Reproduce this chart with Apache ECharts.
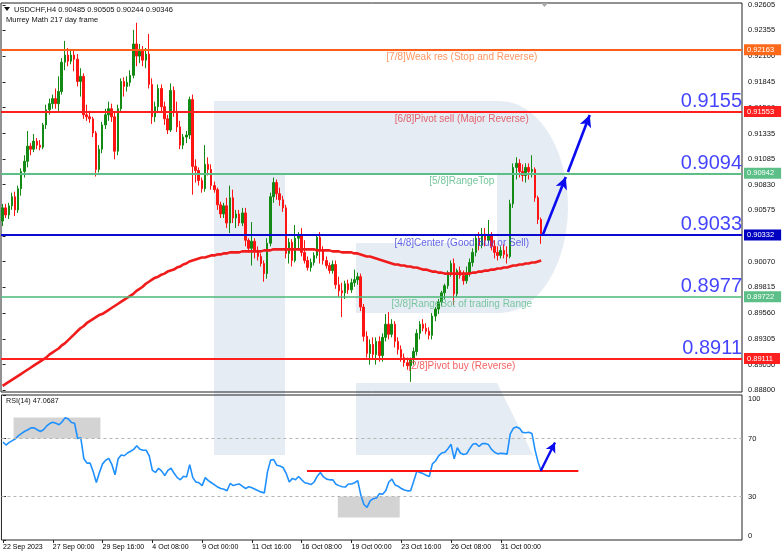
<!DOCTYPE html>
<html><head><meta charset="utf-8">
<script src="https://cdn.jsdelivr.net/npm/echarts@6/dist/echarts.min.js"></script>
<style>html,body{margin:0;padding:0;background:#fff;}#c{width:782px;height:557px;}</style>
</head><body><div id="c"></div>
<script>
// ---------- DATA ----------
const symbolName = 'USDCHF,H4';
const lastQuote = ['0.90485', '0.90505', '0.90244', '0.90346'];
const subtitle = 'Murrey Math 217 day frame';
const tickLabels = ['22 Sep 2023','27 Sep 00:00','29 Sep 16:00','4 Oct 08:00','9 Oct 00:00','11 Oct 16:00','16 Oct 08:00','19 Oct 00:00','23 Oct 16:00','26 Oct 08:00','31 Oct 00:00'];
const priceTicks = [0.92605,0.92355,0.92100,0.91845,0.91590,0.91335,0.91085,0.90830,0.90575,0.90320,0.90070,0.89815,0.89560,0.89305,0.89050,0.88800];
const rsiTicks = [0, 30, 70, 100];

const opens = [
0.9047,0.9060,0.9053,0.9062,0.9071,0.9058,0.9079,0.9096,0.9106,0.9121,
0.9118,0.9126,0.9122,0.9120,0.9142,0.9157,0.9163,0.9168,0.9163,0.9175,
0.9204,0.9211,0.9205,0.9211,0.9207,0.9185,0.9190,0.9152,0.9150,0.9148,
0.9134,0.9098,0.9118,0.9142,0.9152,0.9158,0.9150,0.9116,0.9158,0.9185,
0.9180,0.9184,0.9191,0.9222,0.9210,0.9215,0.9206,0.9212,0.9182,0.9150,
0.9160,0.9178,0.9160,0.9148,0.9137,0.9176,0.9155,0.9140,0.9122,0.9130,
0.9132,0.9167,0.9101,0.9097,0.9087,0.9079,0.9103,0.9098,0.9082,0.9078,
0.9063,0.9054,0.9062,0.9045,0.9070,0.9050,0.9054,0.9045,0.9055,0.9028,
0.9020,0.9027,0.9018,0.9012,0.9005,0.8995,0.9025,0.9071,0.9085,0.9074,
0.9068,0.9060,0.9015,0.9026,0.9008,0.9030,0.9033,0.9016,0.9008,0.9001,
0.9006,0.9013,0.9031,0.9018,0.9008,0.9003,0.8998,0.9004,0.8984,0.8978,
0.8976,0.8985,0.8979,0.8986,0.8989,0.8992,0.8962,0.8933,0.8916,0.8925,
0.8915,0.8928,0.8914,0.8932,0.8945,0.8935,0.8945,0.8928,0.8920,0.8912,
0.8907,0.8904,0.8910,0.8918,0.8936,0.8945,0.8941,0.8938,0.8934,0.8953,
0.8960,0.8967,0.8976,0.8983,0.8996,0.9005,0.8975,0.8998,0.8993,0.8988,
0.8995,0.9006,0.9016,0.9030,0.9023,0.9034,0.9028,0.9033,0.9022,0.9016,
0.9013,0.9018,0.9014,0.9012,0.9064,0.9100,0.9104,0.9096,0.9092,0.9100,
0.9096,0.9098,0.9070,0.90485];
const closes = [
0.9060,0.9053,0.9062,0.9071,0.9058,0.9079,0.9096,0.9106,0.9121,0.9118,
0.9126,0.9122,0.9120,0.9142,0.9157,0.9163,0.9168,0.9163,0.9175,0.9204,
0.9211,0.9205,0.9211,0.9207,0.9185,0.9190,0.9152,0.9150,0.9148,0.9134,
0.9098,0.9118,0.9142,0.9152,0.9158,0.9150,0.9116,0.9158,0.9185,0.9180,
0.9184,0.9191,0.9222,0.9210,0.9215,0.9206,0.9212,0.9182,0.9150,0.9160,
0.9178,0.9160,0.9148,0.9137,0.9176,0.9155,0.9140,0.9122,0.9130,0.9132,
0.9167,0.9101,0.9097,0.9087,0.9079,0.9103,0.9098,0.9082,0.9078,0.9063,
0.9054,0.9062,0.9045,0.9070,0.9050,0.9054,0.9045,0.9055,0.9028,0.9020,
0.9027,0.9018,0.9012,0.9005,0.8995,0.9025,0.9071,0.9085,0.9074,0.9068,
0.9060,0.9015,0.9026,0.9008,0.9030,0.9033,0.9016,0.9008,0.9001,0.9006,
0.9013,0.9031,0.9018,0.9008,0.9003,0.8998,0.9004,0.8984,0.8978,0.8976,
0.8985,0.8979,0.8986,0.8989,0.8992,0.8962,0.8933,0.8916,0.8925,0.8915,
0.8928,0.8914,0.8932,0.8945,0.8935,0.8945,0.8928,0.8920,0.8912,0.8907,
0.8904,0.8910,0.8918,0.8936,0.8945,0.8941,0.8938,0.8934,0.8953,0.8960,
0.8967,0.8976,0.8983,0.8996,0.9005,0.8975,0.8998,0.8993,0.8988,0.8995,
0.9006,0.9016,0.9030,0.9023,0.9034,0.9028,0.9033,0.9022,0.9016,0.9013,
0.9018,0.9014,0.9012,0.9064,0.9100,0.9104,0.9096,0.9092,0.9100,0.9096,
0.9098,0.9070,0.90485,0.90346];
const highs = [
0.9064,0.9064,0.9065,0.9075,0.9076,0.9082,0.9099,0.9112,0.9136,0.9124,
0.9133,0.9129,0.9127,0.9144,0.9162,0.9168,0.9172,0.9178,0.9190,0.9208,
0.9225,0.9218,0.9216,0.9216,0.9212,0.9198,0.9193,0.9162,0.9156,0.9150,
0.9136,0.9122,0.9145,0.9158,0.9165,0.9163,0.9155,0.9162,0.9188,0.9189,
0.9190,0.9196,0.9236,0.9243,0.9222,0.9220,0.9218,0.9232,0.9188,0.9165,
0.9182,0.9182,0.9165,0.9152,0.9183,0.9180,0.9165,0.9146,0.9133,0.9136,
0.9170,0.9172,0.9108,0.9100,0.9090,0.9122,0.9110,0.9103,0.9086,0.9080,
0.9066,0.9065,0.9070,0.9082,0.9078,0.9058,0.9058,0.9060,0.9060,0.9030,
0.9046,0.9030,0.9022,0.9015,0.9008,0.9030,0.9075,0.9090,0.9088,0.9080,
0.9072,0.9063,0.9030,0.9029,0.9043,0.9036,0.9040,0.9028,0.9012,0.9010,
0.9016,0.9034,0.9036,0.9022,0.9012,0.9006,0.9008,0.9008,0.8992,0.8986,
0.8988,0.8989,0.8990,0.8999,0.8996,0.8995,0.8965,0.8938,0.8930,0.8932,
0.8932,0.8933,0.8936,0.8955,0.8957,0.8950,0.8948,0.8932,0.8924,0.8916,
0.8912,0.8912,0.8922,0.8940,0.8948,0.8950,0.8946,0.8942,0.8956,0.8962,
0.8970,0.8978,0.8985,0.8998,0.9008,0.9010,0.9000,0.9002,0.8998,0.9002,
0.9010,0.9020,0.9034,0.9036,0.9040,0.9040,0.9048,0.9036,0.9028,0.9022,
0.9022,0.9024,0.9022,0.9068,0.9104,0.9110,0.9108,0.9103,0.9104,0.9104,
0.9112,0.9100,0.9072,0.90505];
const lows = [
0.9042,0.9050,0.9049,0.9058,0.9052,0.9055,0.9072,0.9090,0.9100,0.9112,
0.9115,0.9118,0.9117,0.9118,0.9138,0.9152,0.9158,0.9158,0.9155,0.9172,
0.9196,0.9200,0.9202,0.9195,0.9180,0.9170,0.9148,0.9146,0.9144,0.9130,
0.9091,0.9095,0.9114,0.9138,0.9146,0.9145,0.9108,0.9112,0.9155,0.9170,
0.9175,0.9180,0.9188,0.9200,0.9203,0.9200,0.9198,0.9178,0.9143,0.9145,
0.9155,0.9155,0.9142,0.9133,0.9135,0.9150,0.9135,0.9118,0.9118,0.9124,
0.9128,0.9073,0.9085,0.9082,0.9075,0.9076,0.9092,0.9078,0.9075,0.9058,
0.9050,0.9050,0.9040,0.9035,0.9045,0.9040,0.9042,0.9042,0.9022,0.9016,
0.9003,0.9010,0.9008,0.9002,0.8987,0.8990,0.9022,0.9065,0.9068,0.9062,
0.9056,0.9010,0.9005,0.9002,0.9006,0.9018,0.9012,0.9005,0.8998,0.8997,
0.9003,0.9010,0.9005,0.9004,0.9000,0.8995,0.8995,0.8980,0.8972,0.8952,
0.8970,0.8975,0.8976,0.8982,0.8984,0.8958,0.8928,0.8912,0.8905,0.8910,
0.8905,0.8908,0.8908,0.8928,0.8930,0.8932,0.8922,0.8915,0.8908,0.8903,
0.8900,0.8888,0.8905,0.8914,0.8930,0.8938,0.8935,0.8930,0.8930,0.8948,
0.8955,0.8963,0.8970,0.8980,0.8992,0.8964,0.8972,0.8990,0.8984,0.8985,
0.8992,0.9002,0.9012,0.9018,0.9020,0.9022,0.9025,0.9018,0.9010,0.9008,
0.9010,0.9010,0.9005,0.9010,0.9060,0.9088,0.9090,0.9086,0.9085,0.9088,
0.9090,0.9066,0.9044,0.90244];
const ma = [
0.8884,0.8886,0.8888,0.8890,0.8892,0.8894,0.8896,0.8898,0.8900,0.8902,
0.8904,0.8906,0.8908,0.8910,0.8912,0.8915,0.8917,0.8919,0.8921,0.8924,
0.8926,0.8929,0.8932,0.8935,0.8938,0.8941,0.8943,0.8946,0.8948,0.8950,
0.8952,0.8954,0.8955,0.8957,0.8959,0.8961,0.8963,0.8965,0.8967,0.8969,
0.8971,0.8973,0.8975,0.8978,0.8980,0.8982,0.8985,0.8987,0.8989,0.8991,
0.8992,0.8994,0.8995,0.8997,0.8998,0.8999,0.9001,0.9002,0.9004,0.9005,
0.9007,0.9008,0.9009,0.9010,0.9011,0.9011,0.9012,0.9013,0.9013,0.9014,
0.9014,0.9015,0.9015,0.9016,0.9016,0.9016,0.9016,0.9017,0.9017,0.9017,
0.9017,0.9017,0.9017,0.9017,0.9018,0.9018,0.9018,0.9019,0.9019,0.9019,
0.9019,0.9019,0.9019,0.9019,0.9019,0.9019,0.9019,0.9019,0.9019,0.9019,
0.9019,0.9018,0.9018,0.9018,0.9018,0.9018,0.9017,0.9017,0.9017,0.9016,
0.9016,0.9016,0.9016,0.9015,0.9015,0.9014,0.9013,0.9012,0.9012,0.9011,
0.9010,0.9009,0.9008,0.9007,0.9006,0.9005,0.9004,0.9004,0.9003,0.9003,
0.9002,0.9002,0.9001,0.9001,0.9000,0.8999,0.8999,0.8998,0.8997,0.8997,
0.8996,0.8996,0.8995,0.8995,0.8995,0.8995,0.8995,0.8995,0.8995,0.8995,
0.8995,0.8996,0.8996,0.8997,0.8997,0.8998,0.8998,0.8999,0.8999,0.9000,
0.9000,0.9001,0.9001,0.9002,0.9003,0.9003,0.9004,0.9004,0.9005,0.9005,
0.9006,0.9006,0.9007,0.9008];
const rsi = [
67.5,65.5,67.3,68.5,69.8,72,73.5,75,76,77.3,
77.3,76,74.8,76,78.5,80.3,81.2,80.5,79.5,81.5,
84.4,83.5,81,80.5,70,70.5,56,53,53,47,
39.6,46.5,52.5,55,56.3,52,45,56,58.6,58.1,
60,61.2,62.5,65,62.6,61.9,61.9,58,48,46.6,
49.5,47.5,44.5,48,49.5,46,43,41.5,44,43.5,
52,43,40,39.5,37.5,43,41,39.5,38,36.5,
35.5,35,34,39,37.5,38.3,38.6,37,35.5,36.8,
36,35,34,33,32.5,47,55.1,55.5,51.5,51,
50,46,40,42.5,41.5,43.8,41.5,39.5,39,38.2,
40,44,46.5,43.5,42,41.5,41.5,38.5,37.5,36.7,
36.5,38.6,38.6,39.5,41,31,24.5,22.5,27,28.5,
29,32,31.5,34,40,42,38,37,35.5,34.5,
33.9,34,40.5,47.5,46.5,45.8,44.7,43.8,52.5,54.5,
58,60,60.5,63,66,56,63.7,60,59,59.5,
63,66,66.5,64.5,66.5,66.5,65.8,62.5,60.5,59.4,
59.8,59.6,59.2,73,77,78,77,74.2,74,74.3,
73.4,62,53.5,47.0687];

// Murrey levels
const levels = [0.92163, 0.91553, 0.90942, 0.90332, 0.89722, 0.89111];
const levelNames = ['[7/8]Weak res (Stop and Reverse)', '[6/8]Pivot sell (Major Reverse)', '[5/8]RangeTop', '[4/8]Center (Good Buy or Sell)', '[3/8]RangeBot of trading Range', '[2/8]Pivot buy (Reverse)'];
const bigLevelText = ['', '0.9155', '0.9094', '0.9033', '0.8977', '0.8911'];
// annotations, in data units (bar slot, price / RSI value)
const mainArrows = [[[173.5, 0.90332], [180.9, 0.90905]], [[181.6, 0.90954], [188.6, 0.91518]]];
const rsiSupport = [[97.7, 47.6], [184.9, 47.6]];
const rsiArrow = [[172.8, 47.6], [177.4, 67.3]];
const rsiBoxes = [[[3.4, 70], [31.3, 84.5]], [[107.6, 15.6], [127.5, 30]]];

// ---------- LAYOUT / STYLE ----------
const N = 238;            // slots on the time axis (incl. right shift)
const nameSlot = 147.5;   // where the level captions are centred
const FONT = '"Liberation Sans", Arial, sans-serif';
const levelStyle = [
  {line:'#ff5f1a', text:'#ff7a3a', box:'#ff6a1a', w:2},
  {line:'#ff1f1f', text:'#e0404e', box:'#ff1f1f', w:2},
  {line:'#5cbf87', text:'#52b882', box:'#5cbf87', w:2},
  {line:'#0a0ad0', text:'#3e3ee0', box:'#0000c0', w:2},
  {line:'#4cb87a', text:'#5cba8a', box:'#5cbf87', w:1.5},
  {line:'#ff1f1f', text:'#f03a3a', box:'#ff1f1f', w:2}
];
const ARROW = '#0b0bf0';
const WM = '#e6ecf4';

// watermark "R" outline (decoration, pixel geometry)
const wmPts = [[214, 101], [500, 101]];
for (let k = 1; k < 24; k++) {
  const t = -Math.PI / 2 + Math.PI * k / 24;
  wmPts.push([500 + 68 * Math.cos(t), 207 + 106 * Math.sin(t)]);
}
wmPts.push([500, 313], [356, 313], [356, 243], [497, 243], [497, 173], [285, 173], [285, 455], [214, 455]);

const cats = Array.from({length: N}, (_, i) => String(i));
const ohlc = opens.map((o, i) => [o, closes[i], lows[i], highs[i]]);

const chart = echarts.init(document.getElementById('c'), null, {renderer: 'canvas'});

const levelLines = levels.map((v, i) => ({
  yAxis: v,
  lineStyle: {color: levelStyle[i].line, width: levelStyle[i].w, type: 'solid'},
  label: {show: true, position: 'end', distance: 2, formatter: v.toFixed(5), color: '#fff',
          backgroundColor: levelStyle[i].box, padding: [2, 7, 1, 3], fontSize: 7.5, fontFamily: FONT}
}));
const arrowLines = mainArrows.map(a => [
  {coord: a[0], symbol: 'none', lineStyle: {color: ARROW, width: 2.6, type: 'solid'}, label: {show: false}},
  {coord: a[1], symbol: 'arrow', symbolSize: [9, 12]}
]);

const nameData = levels.map((v, i) => ({
  value: [nameSlot, v],
  label: {show: true, position: 'bottom', distance: 3, formatter: levelNames[i], color: levelStyle[i].text,
          fontSize: 10, fontFamily: FONT}
}));
const bigData = levels.map((v, i) => bigLevelText[i] ? ({
  value: [N - 0.5, v],
  label: {show: true, position: 'top', align: 'right', distance: 0, formatter: bigLevelText[i], color: '#1414ff',
          fontSize: 20, fontFamily: FONT}
}) : null).filter(Boolean);

const option = {
  animation: false,
  backgroundColor: '#fff',
  grid: [
    {left: 1, top: 3, width: 741, height: 389, show: true, borderColor: '#222', borderWidth: 1},
    {left: 1, top: 395, width: 741, height: 145, show: true, borderColor: '#222', borderWidth: 1}
  ],
  xAxis: [
    {type: 'category', gridIndex: 0, data: cats, boundaryGap: true, axisLine: {show: false}, axisTick: {show: false}, axisLabel: {show: false}, splitLine: {show: false}},
    {type: 'value', gridIndex: 0, min: -0.5, max: N - 0.5, show: false},
    {type: 'category', gridIndex: 1, data: cats, boundaryGap: true, axisLine: {show: false},
     axisTick: {show: true, alignWithLabel: true, length: 3, lineStyle: {color: '#222'},
                interval: (idx) => idx % 16 === 0 && idx / 16 < tickLabels.length},
     axisLabel: {show: true, align: 'left', margin: 4, fontSize: 7, color: '#000', fontFamily: FONT,
                 interval: (idx) => idx % 16 === 0 && idx / 16 < tickLabels.length,
                 formatter: (v) => tickLabels[Number(v) / 16] || ''},
     splitLine: {show: false}},
    {type: 'value', gridIndex: 1, min: -0.5, max: N - 0.5, show: false}
  ],
  yAxis: [
    {type: 'value', gridIndex: 0, position: 'right', min: 0.8878, max: 0.92625,
     axisLine: {show: false}, splitLine: {show: false},
     axisTick: {show: true, customValues: priceTicks, length: 3, lineStyle: {color: '#222'}},
     axisLabel: {show: true, customValues: priceTicks, formatter: (v) => v.toFixed(5), fontSize: 7.5, color: '#111', fontFamily: FONT, margin: 6}},
    {type: 'value', gridIndex: 1, position: 'right', min: 0, max: 100,
     axisLine: {show: false}, splitLine: {show: false},
     axisTick: {show: true, customValues: rsiTicks, length: 3, lineStyle: {color: '#222'}},
     axisLabel: {show: true, customValues: rsiTicks, fontSize: 7.5, color: '#111', fontFamily: FONT, margin: 6,
                 verticalAlignMaxLabel: 'top', verticalAlignMinLabel: 'bottom'}}
  ],
  series: [
    {type: 'candlestick', name: 'USDCHF', xAxisIndex: 0, yAxisIndex: 0, data: ohlc, barWidth: 2, z: 3,
     itemStyle: {color: '#138a13', color0: '#ff1414', borderColor: '#138a13', borderColor0: '#ff1414', borderWidth: 1}},
    {type: 'line', name: 'MA', xAxisIndex: 0, yAxisIndex: 0, data: ma, showSymbol: false, z: 4,
     lineStyle: {color: '#f01c1c', width: 2.6}},
    {type: 'scatter', name: 'levels', xAxisIndex: 1, yAxisIndex: 0, data: nameData.concat(bigData), symbolSize: 0, z: 5, silent: true,
     markLine: {silent: true, precision: 6, symbol: ['none', 'none'], animation: false, data: levelLines.concat(arrowLines)}},
    {type: 'scatter', name: 'rsiBoxes', xAxisIndex: 3, yAxisIndex: 1, data: [[0, 50]], symbolSize: 0, z: 1, silent: true,
     markArea: {silent: true, itemStyle: {color: '#d3d3d3'}, data: rsiBoxes.map(b => [{coord: b[0]}, {coord: b[1]}])}},
    {type: 'line', name: 'RSI(14)', xAxisIndex: 2, yAxisIndex: 1, data: rsi, showSymbol: false, z: 3,
     lineStyle: {color: '#1e90ff', width: 1.6},
     markLine: {silent: true, symbol: ['none', 'none'], label: {show: false},
                lineStyle: {color: '#b4b4b4', type: [3, 3], width: 1}, data: [{yAxis: 70}, {yAxis: 30}]}},
    {type: 'scatter', name: 'rsiMarks', xAxisIndex: 3, yAxisIndex: 1, data: [[0, 50]], symbolSize: 0, z: 5, silent: true,
     markLine: {silent: true, precision: 4, symbol: ['none', 'none'], label: {show: false}, data: [
       [{coord: rsiSupport[0], lineStyle: {color: '#ff1414', width: 2, type: 'solid'}}, {coord: rsiSupport[1]}],
       [{coord: rsiArrow[0], lineStyle: {color: ARROW, width: 2.4, type: 'solid'}}, {coord: rsiArrow[1], symbol: 'arrow', symbolSize: [8, 10]}]
     ]}}
  ],
  graphic: [
    {type: 'polygon', z: -10, silent: true, shape: {points: wmPts}, style: {fill: WM}},
    {type: 'polygon', z: -10, silent: true, shape: {points: [[356, 383], [497, 383], [533, 455], [356, 455]]}, style: {fill: WM}},
    {type: 'polygon', z: 10, silent: true, shape: {points: [[4, 7], [10, 7], [7, 11]]}, style: {fill: '#111'}},
    {type: 'text', z: 10, silent: true, x: 14, y: 9.5, style: {text: symbolName + ' ' + lastQuote.join(' '), fill: '#111', fontSize: 7.5, fontFamily: FONT, verticalAlign: 'middle'}},
    {type: 'text', z: 10, silent: true, x: 6, y: 20, style: {text: subtitle, fill: '#111', fontSize: 7.5, fontFamily: FONT, verticalAlign: 'middle'}},
    {type: 'text', z: 10, silent: true, x: 6, y: 401, style: {text: 'RSI(14) ' + rsi[rsi.length - 1].toFixed(4), fill: '#111', fontSize: 7.2, fontFamily: FONT, verticalAlign: 'middle'}},
    {type: 'polygon', z: 10, silent: true, shape: {points: [[541, 3], [548, 3], [544.5, 7]]}, style: {fill: '#a8a8a8'}}
  ]
};
chart.setOption(option);
</script>
</body></html>
